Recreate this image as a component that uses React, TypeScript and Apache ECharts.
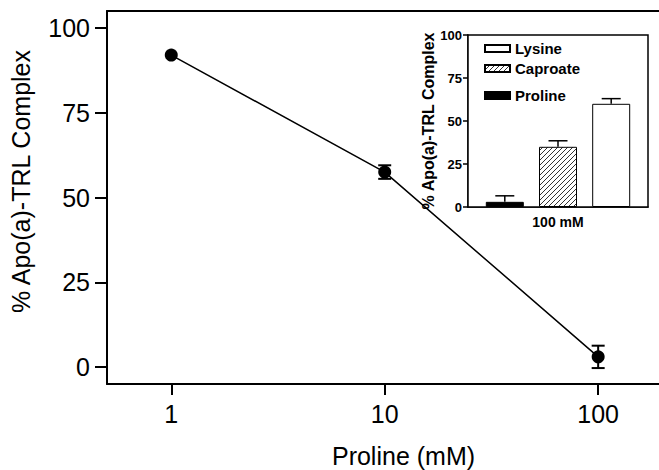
import React, { useEffect, useRef } from "react";
import * as echarts from "echarts";

const xValues = [1, 10, 100];
const prolineMean = [92, 57.5, 3];
const prolineErr = [0, 2, 3.3];
const mainXTicks = [1, 10, 100];
const mainYTicks = [0, 25, 50, 75, 100];

const insetCategories = ["100 mM"];
const insetNames = ["Proline", "Caproate", "Lysine"];
const insetMeans = [3, 35, 60];
const insetErrs = [3.5, 3.5, 3];

const FONT = "'Liberation Sans', Arial, Helvetica, sans-serif";

function makeHatch() {
  const c = document.createElement("canvas");
  c.width = 5;
  c.height = 5;
  const ctx = c.getContext("2d")!;
  ctx.fillStyle = "#fff";
  ctx.fillRect(0, 0, 5, 5);
  ctx.strokeStyle = "#333";
  ctx.lineWidth = 1;
  ctx.beginPath();
  ctx.moveTo(-1, 6);
  ctx.lineTo(6, -1);
  ctx.moveTo(-1, 1);
  ctx.lineTo(1, -1);
  ctx.moveTo(4, 6);
  ctx.lineTo(6, 4);
  ctx.stroke();
  return c;
}

export default function App() {
  const ref = useRef<HTMLDivElement>(null);
  useEffect(() => {
    if (!ref.current) return;
    const chart = echarts.init(ref.current, undefined, { renderer: "svg" });
    const hatch = makeHatch();
    const fills: any[] = ["#000", { image: hatch, repeat: "repeat" }, "#fff"];
    const barW = 38;
    const gapRatio = 0.4;

    const option: any = {
      animation: false,
      backgroundColor: "#fff",
      grid: [
        {
          left: 107,
          top: 11,
          width: 593,
          height: 373,
          show: false,
          outerBoundsMode: "none",
          containLabel: false,
        },
        {
          left: 468,
          top: 35,
          width: 180,
          height: 172,
          show: true,
          backgroundColor: "#fff",
          borderColor: "#000",
          borderWidth: 1.5,
          outerBoundsMode: "none",
          containLabel: false,
          z: 5,
        },
      ],
      graphic: [
        {
          type: "rect",
          x: 651,
          y: 15,
          shape: { x: 0, y: 0, width: 12, height: 364 },
          style: { fill: "#fff", stroke: null },
          z: 100,
          silent: true,
        },
      ],
      legend: [
        {
          data: ["Lysine", "Caproate"],
          orient: "vertical",
          left: 479,
          top: 36,
          itemWidth: 25,
          itemHeight: 7,
          itemGap: 5,
          icon: "rect",
          textStyle: { fontFamily: FONT, fontWeight: "bold", fontSize: 15, color: "#000" },
          z: 10,
        },
        {
          data: ["Proline"],
          orient: "vertical",
          left: 479,
          top: 83,
          itemWidth: 25,
          itemHeight: 7,
          icon: "rect",
          textStyle: { fontFamily: FONT, fontWeight: "bold", fontSize: 15, color: "#000" },
          z: 10,
        },
      ],
      xAxis: [
        {
          type: "log",
          gridIndex: 0,
          min: 0.5,
          max: 300,
          logBase: 10,
          name: "Proline (mM)",
          nameLocation: "middle",
          nameGap: 59,
          nameTextStyle: { fontFamily: FONT, fontSize: 25, color: "#000" },
          axisLine: { onZero: false, lineStyle: { color: "#000", width: 2 } },
          axisTick: { length: 11, lineStyle: { color: "#000", width: 2 }, customValues: mainXTicks },
          axisLabel: { fontFamily: FONT, fontSize: 25, color: "#000", margin: 17, customValues: mainXTicks },
          splitLine: { show: false },
          minorTick: { show: false },
          minorSplitLine: { show: false },
        },
        {
          type: "category",
          gridIndex: 1,
          data: insetCategories,
          axisLine: { onZero: false, lineStyle: { color: "#000", width: 1.5 } },
          axisTick: { show: false },
          axisLabel: { fontFamily: FONT, fontSize: 14, fontWeight: "bold", color: "#000", margin: 8 },
        },
        {
          type: "log",
          gridIndex: 0,
          position: "top",
          min: 0.5,
          max: 300,
          logBase: 10,
          axisLine: { onZero: false, lineStyle: { color: "#000", width: 2 } },
          axisTick: { show: false },
          axisLabel: { show: false },
          splitLine: { show: false },
          minorTick: { show: false },
          minorSplitLine: { show: false },
        },
      ],
      yAxis: [
        {
          type: "value",
          gridIndex: 0,
          min: -5,
          max: 105,
          name: "% Apo(a)-TRL Complex",
          nameLocation: "middle",
          nameGap: 74,
          nameTextStyle: { fontFamily: FONT, fontSize: 25, color: "#000", padding: [0, 0, 0, 32] },
          axisLine: { show: true, onZero: false, lineStyle: { color: "#000", width: 2 } },
          axisTick: { show: true, length: 12, lineStyle: { color: "#000", width: 2 }, customValues: mainYTicks },
          axisLabel: { fontFamily: FONT, fontSize: 25, color: "#000", margin: 17, customValues: mainYTicks },
          splitLine: { show: false },
        },
        {
          type: "value",
          gridIndex: 1,
          min: 0,
          max: 100,
          interval: 25,
          name: "% Apo(a)-TRL Complex",
          nameLocation: "middle",
          nameGap: 30,
          nameTextStyle: { fontFamily: FONT, fontSize: 16, fontWeight: "bold", color: "#000" },
          axisLine: { show: true, onZero: false, lineStyle: { color: "#000", width: 1.5 } },
          axisTick: { show: true, length: 5, lineStyle: { color: "#000", width: 1.5 } },
          axisLabel: { fontFamily: FONT, fontSize: 13, fontWeight: "bold", color: "#000", margin: 6 },
          splitLine: { show: false },
        },
      ],
      series: [
        {
          type: "line",
          name: "Proline curve",
          xAxisIndex: 0,
          yAxisIndex: 0,
          data: xValues.map((x, i) => [x, prolineMean[i]]),
          symbol: "circle",
          symbolSize: 13,
          itemStyle: { color: "#000" },
          lineStyle: { color: "#000", width: 1.5 },
          z: 3,
        },
        {
          type: "custom",
          name: "Proline error",
          xAxisIndex: 0,
          yAxisIndex: 0,
          data: xValues.map((x, i) => [x, prolineMean[i], prolineErr[i]]),
          z: 4,
          renderItem: (params: any, api: any) => {
            const x = api.value(0);
            const y = api.value(1);
            const e = api.value(2);
            if (!e) return { type: "group", children: [] };
            const hi = api.coord([x, y + e]);
            const lo = api.coord([x, y - e]);
            const w = 6.5;
            const st = { stroke: "#000", lineWidth: 2 };
            return {
              type: "group",
              children: [
                { type: "line", shape: { x1: hi[0], y1: hi[1], x2: lo[0], y2: lo[1] }, style: st },
                { type: "line", shape: { x1: hi[0] - w, y1: hi[1], x2: hi[0] + w, y2: hi[1] }, style: st },
                { type: "line", shape: { x1: lo[0] - w, y1: lo[1], x2: lo[0] + w, y2: lo[1] }, style: st },
              ],
            };
          },
        },
        ...insetNames.map((n, i) => ({
          type: "bar",
          name: n,
          xAxisIndex: 1,
          yAxisIndex: 1,
          data: [insetMeans[i]],
          barWidth: barW,
          barGap: "40%",
          itemStyle: { color: fills[i], borderColor: "#000", borderWidth: 1 },
          z: 6,
        })),
        {
          type: "custom",
          name: "Inset error",
          xAxisIndex: 1,
          yAxisIndex: 1,
          data: insetNames.map((n, i) => [0, insetMeans[i], insetErrs[i], i]),
          z: 7,
          renderItem: (params: any, api: any) => {
            const m = api.value(1);
            const e = api.value(2);
            const idx = api.value(3);
            const off = (idx - 1) * barW * (1 + gapRatio);
            const base = api.coord([0, m]);
            const top = api.coord([0, m + e]);
            const x = base[0] + off;
            const w = 9.5;
            const st = { stroke: "#000", lineWidth: 1.5 };
            return {
              type: "group",
              children: [
                { type: "line", shape: { x1: x, y1: base[1], x2: x, y2: top[1] }, style: st },
                { type: "line", shape: { x1: x - w, y1: top[1], x2: x + w, y2: top[1] }, style: st },
              ],
            };
          },
        },
      ],
    };
    chart.setOption(option);
    return () => chart.dispose();
  }, []);
  return (
    <div
      ref={ref}
      style={{ position: "fixed", left: 0, top: 0, width: 659, height: 470, overflow: "hidden", background: "#fff" }}
    />
  );
}
